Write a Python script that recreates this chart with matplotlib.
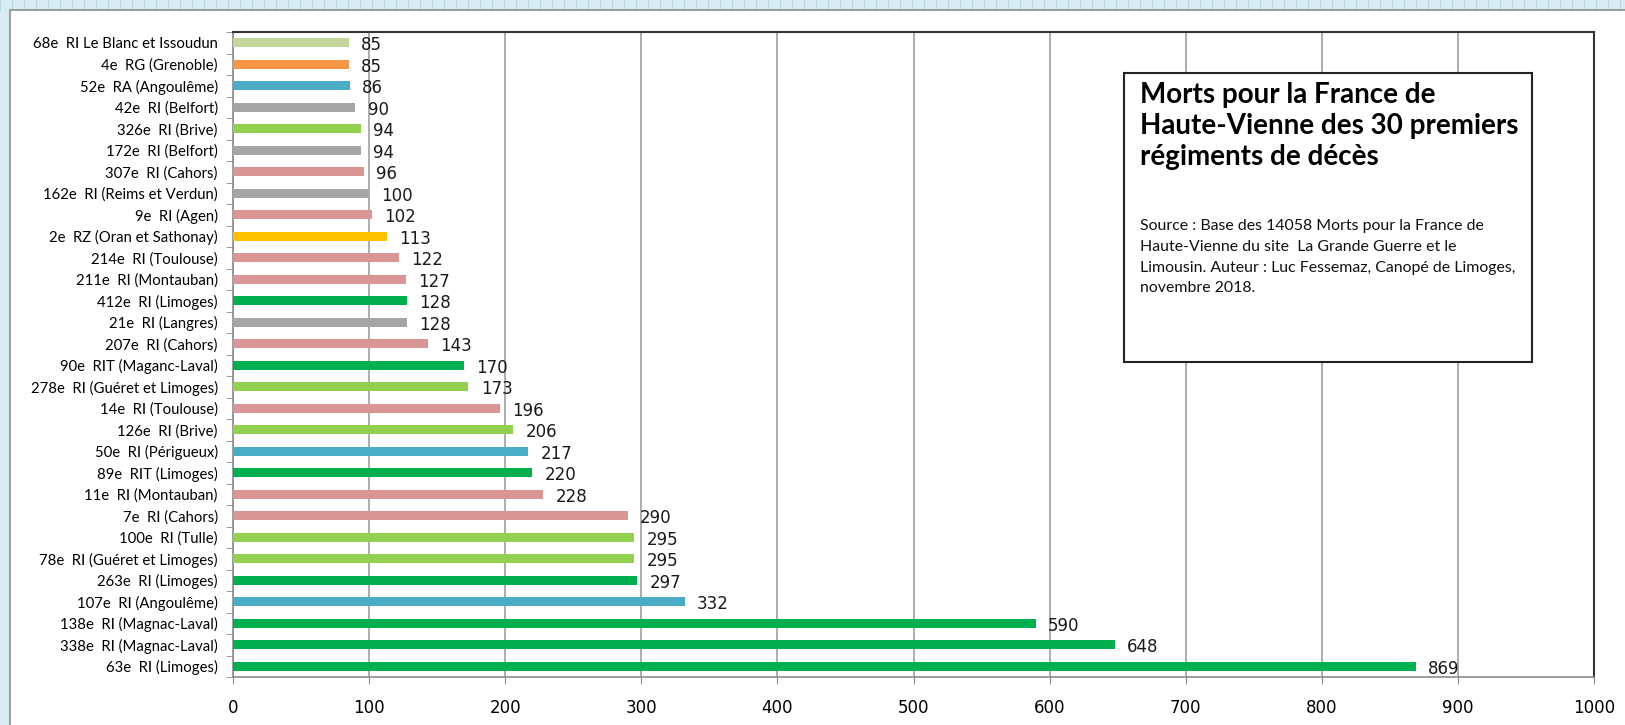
import numpy as np
import matplotlib.pyplot as plt
from matplotlib.patches import Rectangle
from matplotlib.lines import Line2D

# regiments, top to bottom as in the chart
regiments = [
    "68e  RI Le Blanc et Issoudun", "4e  RG (Grenoble)", "52e  RA (Angoulême)",
    "42e  RI (Belfort)", "326e  RI (Brive)", "172e  RI (Belfort)",
    "307e  RI (Cahors)", "162e  RI (Reims et Verdun)", "9e  RI (Agen)",
    "2e  RZ (Oran et Sathonay)", "214e  RI (Toulouse)", "211e  RI (Montauban)",
    "412e  RI (Limoges)", "21e  RI (Langres)", "207e  RI (Cahors)",
    "90e  RIT (Maganc-Laval)", "278e  RI (Guéret et Limoges)", "14e  RI (Toulouse)",
    "126e  RI (Brive)", "50e  RI (Périgueux)", "89e  RIT (Limoges)",
    "11e  RI (Montauban)", "7e  RI (Cahors)", "100e  RI (Tulle)",
    "78e  RI (Guéret et Limoges)", "263e  RI (Limoges)", "107e  RI (Angoulême)",
    "138e  RI (Magnac-Laval)", "338e  RI (Magnac-Laval)", "63e  RI (Limoges)",
]
deaths = [85, 85, 86, 90, 94, 94, 96, 100, 102, 113, 122, 127, 128, 128, 143,
          170, 173, 196, 206, 217, 220, 228, 290, 295, 295, 297, 332, 590, 648, 869]
# colour group of each regiment
groups = ["olive", "orange", "blue", "gray", "lgreen", "gray", "pink", "gray", "pink",
          "yellow", "pink", "pink", "green", "gray", "pink", "green", "lgreen", "pink",
          "lgreen", "blue", "green", "pink", "pink", "lgreen", "lgreen", "green", "blue",
          "green", "green", "green"]

palette = {"olive": "#c4d79b", "orange": "#f79646", "blue": "#4bacc6", "gray": "#a5a5a5",
           "lgreen": "#92d050", "pink": "#da9694", "yellow": "#ffc000", "green": "#00b050"}

title = "Morts pour la France de\nHaute-Vienne des 30 premiers\nrégiments de décès"
source = ("Source : Base des 14058 Morts pour la France de\n"
          "Haute-Vienne du site  La Grande Guerre et le\n"
          "Limousin. Auteur : Luc Fessemaz, Canopé de Limoges,\n"
          "novembre 2018.")

W, H = 1625, 725
fig = plt.figure(figsize=(W / 100, H / 100), dpi=100, facecolor="#d9ecf3")

# spreadsheet look: white chart area over a light blue grid
for x in range(0, W, 12):
    fig.add_artist(Line2D([x / W, x / W], [1 - 10 / H, 1], color="#bcd8e2", lw=0.8,
                          zorder=-10))
fig.add_artist(Rectangle((10 / W, -0.1), 1, 1.1 - 10 / H, transform=fig.transFigure,
                         facecolor="white", edgecolor="#8c8c8c", lw=1.2, zorder=-5))

ax = fig.add_axes([233 / W, 1 - 677 / H, (1594 - 233) / W, (677 - 32) / H])
ax.set_facecolor("none")
y = np.arange(len(regiments))
ax.barh(y, deaths, height=0.4, color=[palette[g] for g in groups], zorder=3)
for yi, v in zip(y, deaths):
    ax.text(v + 9, yi + 0.12, str(v), va="center", ha="left", fontsize=12,
            family="DejaVu Sans", color="#1a1a1a", zorder=4)

ax.set_xlim(0, 1000)
ax.set_ylim(len(regiments) - 0.5, -0.5)
ax.set_xticks(np.arange(0, 1001, 100))
ax.tick_params(axis="x", labelsize=12, length=5, pad=11, color="#8c8c8c")
ax.grid(axis="x", color="#a0a0a0", lw=1.2, zorder=1)

ax.set_yticks(y)
ax.set_yticklabels(regiments, family="Lato", fontsize=10.7)
ax.set_yticks(np.arange(-0.5, len(regiments)), minor=True)
ax.tick_params(axis="y", which="major", length=0, pad=11)
ax.tick_params(axis="y", which="minor", length=5, color="#8c8c8c")

for s in ("left", "bottom"):
    ax.spines[s].set_color("#8c8c8c")
    ax.spines[s].set_linewidth(1.2)
for s in ("top", "right"):
    ax.spines[s].set_color("#333333")
    ax.spines[s].set_linewidth(1.5)

# title box
fig.add_artist(Rectangle((1124 / W, 1 - 362 / H), (1532 - 1124) / W, (362 - 73) / H,
                         transform=fig.transFigure, facecolor="white",
                         edgecolor="#222222", lw=1.5, zorder=5))
fig.text(1140 / W, 1 - 82 / H, title, ha="left", va="top", family="Lato",
         fontweight="bold", fontsize=20, linespacing=1.25, zorder=6)
fig.text(1140 / W, 1 - 219 / H, source, ha="left", va="top", family="Lato",
         fontsize=11.4, linespacing=1.62, color="#111111", zorder=6)

fig.savefig("out.png", dpi=100, facecolor=fig.get_facecolor())
